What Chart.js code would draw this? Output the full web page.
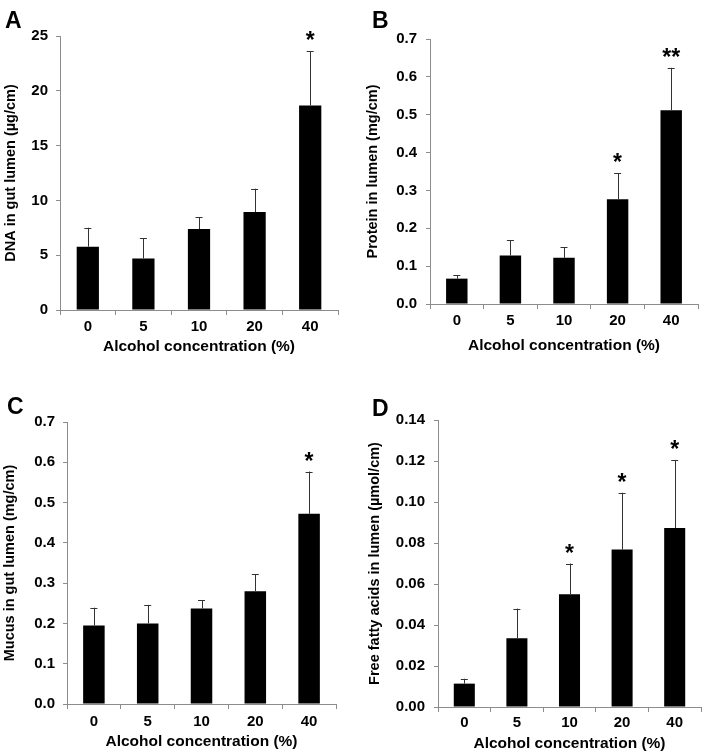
<!DOCTYPE html>
<html>
<head>
<meta charset="utf-8">
<script src="https://cdn.jsdelivr.net/npm/chart.js"></script>
<style>
  body { margin: 0; background: #fff; }
  #fig { position: relative; width: 705px; height: 756px; background: #fff; }
  .panel { position: absolute; }
  .letra { position: absolute; font: bold 23px "Liberation Sans", Arial, sans-serif; line-height: 23px; color: #000; }
</style>
</head>
<body>
<div id="fig">
  <div class="panel" style="left:0;top:0;width:352px;height:360px"><canvas id="chartA"></canvas></div>
  <div class="panel" style="left:352px;top:0;width:353px;height:360px"><canvas id="chartB"></canvas></div>
  <div class="panel" style="left:0;top:360px;width:352px;height:396px"><canvas id="chartC"></canvas></div>
  <div class="panel" style="left:352px;top:360px;width:353px;height:396px"><canvas id="chartD"></canvas></div>
  <div class="letra" style="left:5px;top:9px">A</div>
  <div class="letra" style="left:372px;top:9px">B</div>
  <div class="letra" style="left:7px;top:395px">C</div>
  <div class="letra" style="left:372px;top:397px">D</div>
</div>

<script>
// Categorías (concentración de alcohol, %)
const categorias = ['0', '5', '10', '20', '40'];

// A: DNA en lumen
const dnaMedia = [5.78, 4.71, 7.39, 8.94, 18.67];
const dnaError = [1.73, 1.86, 1.06, 2.13, 4.96];
const dnaSig = ['', '', '', '', '*'];
const dnaTicks = ['0', '5', '10', '15', '20', '25'];

// B: Proteína en lumen
const proteinaMedia = [0.067, 0.128, 0.122, 0.277, 0.512];
const proteinaError = [0.009, 0.040, 0.028, 0.068, 0.112];
const proteinaSig = ['', '', '', '*', '**'];
const proteinaTicks = ['0.0', '0.1', '0.2', '0.3', '0.4', '0.5', '0.6', '0.7'];

// C: Moco en lumen
const mocoMedia = [0.195, 0.200, 0.237, 0.280, 0.472];
const mocoError = [0.044, 0.046, 0.021, 0.042, 0.105];
const mocoSig = ['', '', '', '', '*'];
const mocoTicks = ['0.0', '0.1', '0.2', '0.3', '0.4', '0.5', '0.6', '0.7'];

// D: Ácidos grasos libres
const grasosMedia = [0.0114, 0.0335, 0.055, 0.0768, 0.0873];
const grasosError = [0.0024, 0.0145, 0.015, 0.0277, 0.0332];
const grasosSig = ['', '', '*', '*', '*'];
const grasosTicks = ['0.00', '0.02', '0.04', '0.06', '0.08', '0.10', '0.12', '0.14'];

const FUENTE = '"Liberation Sans", Arial, sans-serif';
const GRIS = '#8c8c8c';

// Plugin para barras de error (solo hacia arriba) y asteriscos
const errorBars = {
    id: 'errorBars',
    afterDatasetsDraw(chart, args, opts) {
        const ctx = chart.ctx;
        const y = chart.scales.y;
        const meta = chart.getDatasetMeta(0);
        const datos = chart.data.datasets[0].data;
        ctx.save();
        meta.data.forEach((bar, i) => {
            const yTop = y.getPixelForValue(datos[i] + opts.errores[i]);
            ctx.strokeStyle = '#333';
            ctx.lineWidth = 1;
            ctx.beginPath();
            ctx.moveTo(Math.round(bar.x) + 0.5, bar.y);
            ctx.lineTo(Math.round(bar.x) + 0.5, yTop);
            ctx.moveTo(bar.x - 3.5, Math.round(yTop) + 0.5);
            ctx.lineTo(bar.x + 3.5, Math.round(yTop) + 0.5);
            ctx.stroke();
            if (opts.sig[i]) {
                ctx.fillStyle = '#000';
                ctx.font = 'bold 23px ' + FUENTE;
                ctx.textAlign = 'center';
                ctx.textBaseline = 'alphabetic';
                ctx.fillText(opts.sig[i], bar.x, yTop - 3);
            }
        });
        ctx.restore();
    }
};

function crearPanel(id, cfg) {
    new Chart(document.getElementById(id), {
        type: 'bar',
        data: {
            labels: categorias,
            datasets: [{
                data: cfg.media,
                backgroundColor: '#000',
                barPercentage: 0.4,
                categoryPercentage: 1.0
            }]
        },
        options: {
            responsive: true,
            maintainAspectRatio: false,
            animation: false,
            layout: { padding: { top: cfg.top, right: cfg.right, left: 0, bottom: 0 } },
            plugins: {
                legend: { display: false },
                tooltip: { enabled: false },
                errorBars: { errores: cfg.error, sig: cfg.sig }
            },
            scales: {
                x: {
                    grid: { display: true, drawOnChartArea: false, drawTicks: true, tickLength: 5, color: GRIS, offset: true },
                    border: { display: true, color: GRIS, width: 1 },
                    ticks: { color: '#000', font: { family: FUENTE, size: 15, weight: 'bold' }, padding: cfg.xPad, maxRotation: 0 },
                    title: {
                        display: true,
                        text: 'Alcohol concentration (%)',
                        color: '#000',
                        font: { family: FUENTE, size: 15.5, weight: 'bold' },
                        padding: { top: 0, bottom: cfg.xTitlePad }
                    },
                    afterFit: function(scale) { scale.height = cfg.xAlto; }
                },
                y: {
                    min: parseFloat(cfg.ticks[0]),
                    max: parseFloat(cfg.ticks[cfg.ticks.length - 1]),
                    grid: { display: true, drawOnChartArea: false, drawTicks: true, tickLength: 4, color: GRIS },
                    border: { display: true, color: GRIS, width: 1 },
                    afterBuildTicks: function(scale) {
                        scale.ticks = cfg.ticks.map(t => ({ value: parseFloat(t) }));
                    },
                    ticks: {
                        color: '#000',
                        font: { family: FUENTE, size: 15, weight: 'bold' },
                        padding: cfg.yPad,
                        callback: function(value, index) { return cfg.ticks[index]; }
                    },
                    title: {
                        display: true,
                        text: cfg.yTitulo,
                        color: '#000',
                        font: { family: FUENTE, size: 14.5, weight: 'bold' },
                        padding: { top: cfg.yTitlePad, bottom: 0 }
                    },
                    afterFit: function(scale) { scale.width = cfg.yAncho; }
                }
            }
        },
        plugins: [errorBars]
    });
}

document.addEventListener('DOMContentLoaded', function() {
    crearPanel('chartA', {
        media: dnaMedia, error: dnaError, sig: dnaSig, ticks: dnaTicks,
        yTitulo: 'DNA in gut lumen (\u00b5g/cm)',
        top: 36, right: 14, yAncho: 60, xAlto: 50, xPad: 3, xTitlePad: 4, yPad: 8, yTitlePad: 2
    });
    crearPanel('chartB', {
        media: proteinaMedia, error: proteinaError, sig: proteinaSig, ticks: proteinaTicks,
        yTitulo: 'Protein in lumen (mg/cm)',
        top: 39, right: 7, yAncho: 78, xAlto: 56, xPad: 3, xTitlePad: 5, yPad: 9, yTitlePad: 12
    });
    crearPanel('chartC', {
        media: mocoMedia, error: mocoError, sig: mocoSig, ticks: mocoTicks,
        yTitulo: 'Mucus in gut lumen (mg/cm)',
        top: 62, right: 16, yAncho: 67, xAlto: 52, xPad: 4, xTitlePad: 5, yPad: 8, yTitlePad: 1
    });
    crearPanel('chartD', {
        media: grasosMedia, error: grasosError, sig: grasosSig, ticks: grasosTicks,
        yTitulo: 'Free fatty acids in lumen (\u00b5mol/cm)',
        top: 60, right: 4, yAncho: 86, xAlto: 49, xPad: 2, xTitlePad: 3, yPad: 9, yTitlePad: 14
    });
});
</script>
</body>
</html>
